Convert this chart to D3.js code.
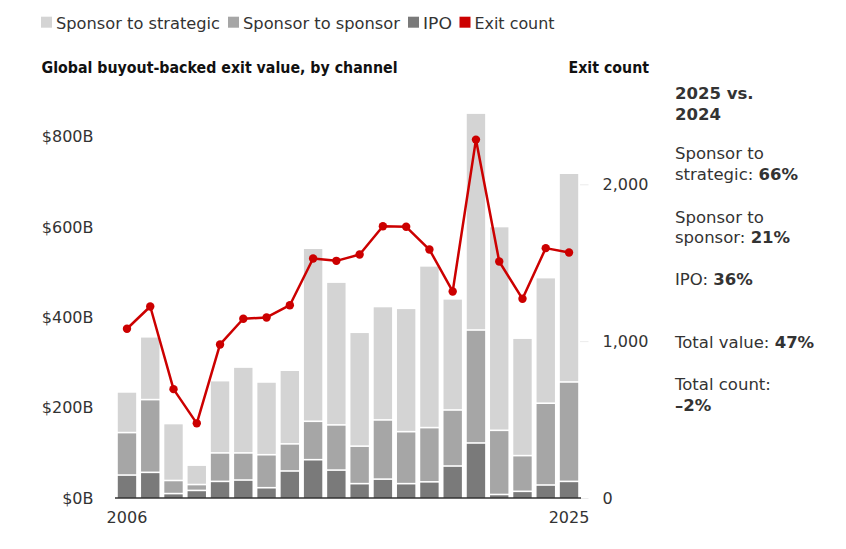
<!DOCTYPE html>
<html>
<head>
<meta charset="utf-8">
<script src="https://cdn.jsdelivr.net/npm/d3@7"></script>
<style>
  html, body { margin: 0; padding: 0; background: #fff; }
  svg { display: block; }
  text { font-family: "DejaVu Sans", Inter, sans-serif; }
</style>
</head>
<body>
<svg id="chart" width="846" height="549"></svg>
<script>
const years = d3.range(2006, 2026);
const ipo        = [49, 55, 8, 15, 35, 38, 21, 58, 83, 60, 30, 40, 30, 34, 69, 120, 6, 13, 27, 35];
const sponsorToSponsor = [94, 161, 29, 13, 63, 60, 73, 60, 85, 100, 83, 131, 115, 120, 124, 250, 142, 79, 181, 220];
const sponsorToStrategic = [90, 139, 126, 43, 160, 190, 161, 163, 383, 316, 252, 251, 273, 358, 246, 480, 451, 260, 278, 462];
const exitCount = [1079, 1221, 694, 476, 979, 1143, 1151, 1229, 1527, 1512, 1552, 1733, 1729, 1584, 1317, 2285, 1508, 1270, 1593, 1565];
const leftTicks = [0, 200, 400, 600, 800];
const rightTicks = [0, 1000, 2000];
const xTickYears = [2006, 2025];

const seriesKeys = ["ipo", "s2s", "s2strat"];
const colors = { s2strat: "#d4d4d4", s2s: "#a6a6a6", ipo: "#7a7a7a", count: "#cc0000" };
const txt = "#333333";

const rows = years.map((y, i) => ({ year: y, ipo: ipo[i], s2s: sponsorToSponsor[i], s2strat: sponsorToStrategic[i], count: exitCount[i] }));

const svg = d3.select("#chart");
const baseY = 498;

const x = d3.scaleBand().domain(years).range([115, 581]).paddingInner(0.21).paddingOuter(0.12);
const yL = d3.scaleLinear().domain([0, 800]).range([baseY, 136.5]);
const yR = d3.scaleLinear().domain([0, 2000]).range([baseY, 184.3]);

// Legend
const legendItems = [
  { label: "Sponsor to strategic", color: colors.s2strat, x: 41, w: 164 },
  { label: "Sponsor to sponsor", color: colors.s2s, x: 228, w: 157 },
  { label: "IPO", color: colors.ipo, x: 408, w: 29 },
  { label: "Exit count", color: colors.count, x: 459.5, w: 80 }
];
const lg = svg.append("g");
legendItems.forEach(d => {
  lg.append("rect").attr("x", d.x).attr("y", 16.7).attr("width", 11).attr("height", 11).attr("fill", d.color);
  lg.append("text").attr("x", d.x + 15).attr("y", 29).attr("font-size", 16.2).attr("fill", txt)
    .attr("textLength", d.w).attr("lengthAdjust", "spacingAndGlyphs").text(d.label);
});

// Titles (condensed bold)
svg.append("text").attr("x", 41.5).attr("y", 72.7).attr("font-size", 16)
  .attr("font-family", "'Liberation Sans Narrow', 'DejaVu Sans Condensed', sans-serif").attr("font-weight", 700)
  .attr("fill", "#111").attr("textLength", 356).attr("lengthAdjust", "spacingAndGlyphs")
  .text("Global buyout-backed exit value, by channel");
svg.append("text").attr("x", 568.5).attr("y", 72.7).attr("font-size", 16)
  .attr("font-family", "'Liberation Sans Narrow', 'DejaVu Sans Condensed', sans-serif").attr("font-weight", 700)
  .attr("fill", "#111").attr("textLength", 80.5).attr("lengthAdjust", "spacingAndGlyphs")
  .text("Exit count");

// Stacked bars with white separators
const stack = d3.stack().keys(seriesKeys)(rows);
svg.append("g").selectAll("g").data(stack).join("g")
  .attr("fill", d => colors[d.key])
  .selectAll("rect").data(d => d).join("rect")
  .attr("x", d => x(d.data.year))
  .attr("width", x.bandwidth())
  .attr("y", d => yL(d[1]))
  .attr("height", d => Math.max(0, yL(d[0]) - yL(d[1]) - (d[0] > 0 ? 1.6 : 0)));

// Left axis labels
const axL = d3.axisLeft(yL).tickValues(leftTicks).tickSize(0).tickPadding(0).tickFormat(d => "$" + d + "B");
svg.append("g").attr("transform", "translate(93.5,0)").call(axL)
  .call(g => g.select(".domain").remove())
  .call(g => g.selectAll("text").attr("font-size", 16).attr("fill", txt).attr("font-family", "'DejaVu Sans', sans-serif"));

// Right axis
const axR = d3.axisRight(yR).tickValues(rightTicks).tickSize(8.5).tickPadding(14).tickFormat(d3.format(","));
svg.append("g").attr("transform", "translate(580,0)").call(axR)
  .call(g => g.select(".domain").remove())
  .call(g => g.selectAll("line").attr("stroke", "#ececec"))
  .call(g => g.selectAll("text").attr("font-size", 16).attr("fill", txt).attr("font-family", "'DejaVu Sans', sans-serif"));

// X axis
const axX = d3.axisBottom(x).tickValues(xTickYears).tickSize(0).tickPadding(14);
svg.append("g").attr("transform", `translate(0,${baseY})`).call(axX)
  .call(g => g.select(".domain").remove())
  .call(g => g.selectAll("text").attr("font-size", 16).attr("fill", txt).attr("font-family", "'DejaVu Sans', sans-serif"));
svg.append("line").attr("x1", 115).attr("x2", 581).attr("y1", baseY).attr("y2", baseY)
  .attr("stroke", "#333").attr("stroke-width", 1.5);

// Exit count line
const line = d3.line().x(d => x(d.year) + x.bandwidth() / 2).y(d => yR(d.count));
svg.append("path").datum(rows).attr("d", line).attr("fill", "none")
  .attr("stroke", colors.count).attr("stroke-width", 2.5).attr("stroke-linejoin", "round");
svg.append("g").selectAll("circle").data(rows).join("circle")
  .attr("cx", d => x(d.year) + x.bandwidth() / 2).attr("cy", d => yR(d.count)).attr("r", 4.2)
  .attr("fill", colors.count);

// Right annotation panel
const notes = [
  { y: 99,    s: [{ t: "2025 vs.", b: true }] },
  { y: 119.5, s: [{ t: "2024", b: true }] },
  { y: 159.3, s: [{ t: "Sponsor to" }] },
  { y: 180,   s: [{ t: "strategic: " }, { t: "66%", b: true }] },
  { y: 222.7, s: [{ t: "Sponsor to" }] },
  { y: 243.3, s: [{ t: "sponsor: " }, { t: "21%", b: true }] },
  { y: 285.3, s: [{ t: "IPO: " }, { t: "36%", b: true }] },
  { y: 348,   s: [{ t: "Total value: " }, { t: "47%", b: true }] },
  { y: 390,   s: [{ t: "Total count:" }] },
  { y: 410.7, s: [{ t: "\u20132%", b: true }] }
];
const ng = svg.append("g");
notes.forEach(n => {
  const t = ng.append("text").attr("x", 675).attr("y", n.y).attr("font-size", 16.5).attr("fill", txt);
  n.s.forEach(s => t.append("tspan").attr("font-weight", s.b ? 700 : 400).text(s.t));
});
</script>
</body>
</html>
